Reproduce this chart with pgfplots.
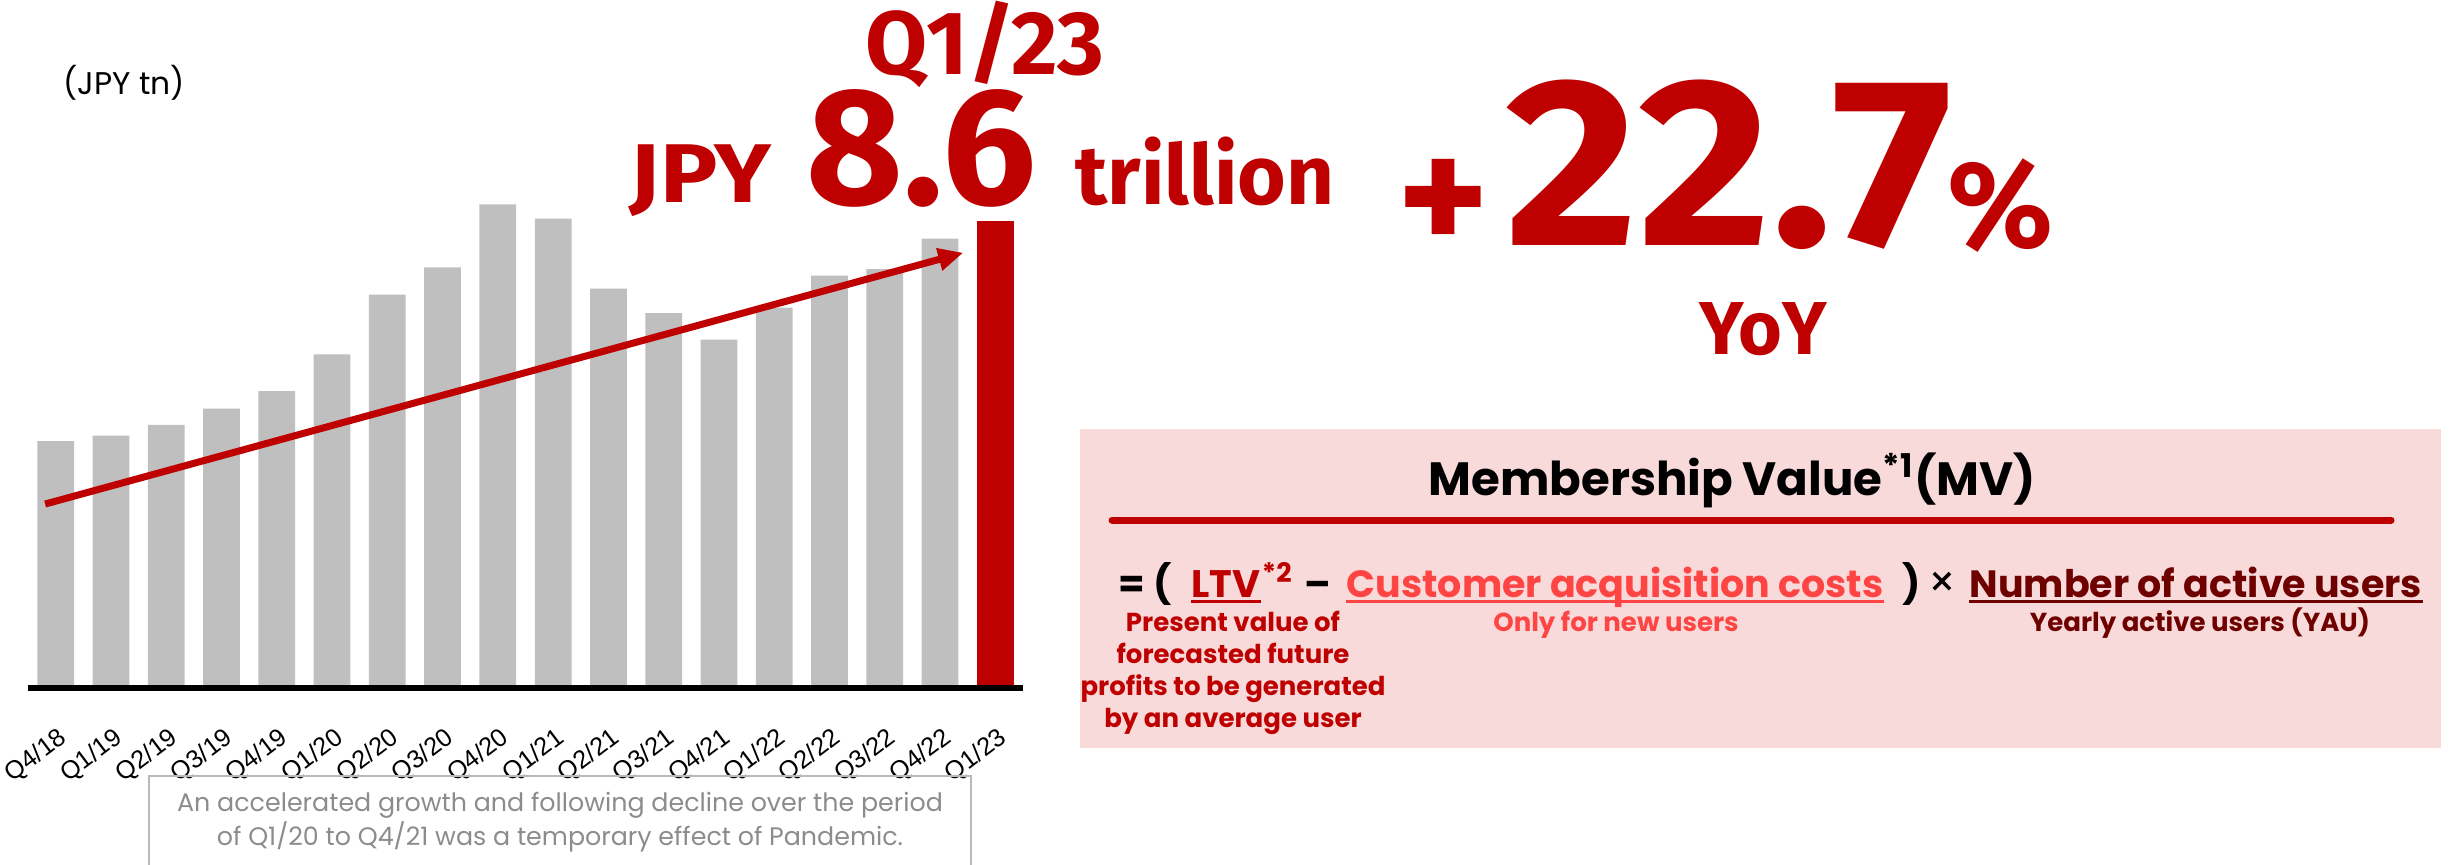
\documentclass[border=0pt]{standalone}
\usepackage{fontspec}
\setmainfont{Poppins}
\newfontfamily\fira{Fira Sans}
\newfontfamily\libsans{Liberation Sans}
\usepackage{pgfplots}
\usepackage{pgfplotstable}
\pgfplotsset{compat=1.18}
\usetikzlibrary{arrows.meta}
\definecolor{rkred}{RGB}{191,0,0}
\definecolor{bargray}{RGB}{191,191,191}
\definecolor{pinkbox}{RGB}{249,218,218}
\definecolor{coral}{RGB}{255,68,68}
\definecolor{maroon}{RGB}{110,0,0}
\definecolor{notegray}{RGB}{140,140,140}
\definecolor{boxgray}{RGB}{185,185,185}
\newcommand\fs[1]{\fontsize{#1}{#1}\selectfont}

\pgfplotstableread{
x v
0 4.55
1 4.65
2 4.85
3 5.15
4 5.47
5 6.15
6 7.25
7 7.75
8 8.91
9 8.65
10 7.36
11 6.91
12 6.42
13 7.01
14 7.60
15 7.72
16 8.28
}\graydata

\begin{document}
\begin{tikzpicture}
\useasboundingbox (0,0) rectangle (736.5pt,-259.5pt);
\begin{axis}[
  at={(8.4pt,-206.4pt)}, anchor=south west,
  scale only axis, width=298.5pt, height=162.8pt,
  xmin=-0.5, xmax=17.5, ymin=0, ymax=10,
  axis y line=none, axis x line*=bottom,
  x axis line style={line width=1.6pt,-},
  axis on top,
  ybar, bar width=0.665,
  xtick={0,...,17},
  xticklabels={Q4/18,Q1/19,Q2/19,Q3/19,Q4/19,Q1/20,Q2/20,Q3/20,Q4/20,Q1/21,Q2/21,Q3/21,Q4/21,Q1/22,Q2/22,Q3/22,Q4/22,Q1/23},
  major tick length=0pt,
  xticklabel style={rotate=37, anchor=north east, inner sep=0pt, yshift=-9.2pt, xshift=-6.4pt, font=\libsans\fs{7.6}},
]
\addplot[fill=bargray, draw=none, bar shift=0pt] table[x=x,y=v] {\graydata};
\addplot[fill=rkred, draw=none, bar shift=0pt] coordinates {(17,8.6)};
\addplot[sharp plot, draw=rkred, line width=2.1pt, -{Triangle[length=7.5pt,width=6.5pt]}] coordinates {(-0.19,3.39) (16.42,8.02)};
\end{axis}

\begin{scope}[x=0.3pt, y=-0.3pt]
% left header
\node[anchor=base west, inner sep=0] at (63,95) {\fs{9.4}(JPY tn)};
\node[anchor=base, inner sep=0, text=rkred] at (985,75) {\fira\bfseries\fs{27}Q1/23};
\node[anchor=base west, inner sep=0, text=rkred, xscale=1.15] at (629,202) {\fira\bfseries\fs{25}JPY};
\node[anchor=base west, inner sep=0, text=rkred] at (806,204) {\fira\bfseries\fs{50}8.6};
\node[anchor=base west, inner sep=0, text=rkred] at (1075,204) {\fira\bfseries\fs{25}trillion};

% YoY block
\node[anchor=center, inner sep=0, text=rkred] at (1443,206.5) {\fira\bfseries\fs{52}+};
\node[anchor=base west, inner sep=0, text=rkred, xscale=1.07] at (1505,245) {\fira\bfseries\fs{72}22.7};
\node[anchor=base west, inner sep=0, text=rkred] at (1947,247) {\fira\bfseries\fs{37}\%};
\node[anchor=base, inner sep=0, text=rkred] at (1763,354) {\fira\bfseries\fs{22.5}YoY};

% pink box
\fill[pinkbox] (1080,429) rectangle (2441,748);
\node[anchor=base, inner sep=0] at (1732,495) {\bfseries\fs{14}Membership Value\textsuperscript{*1}(MV)};
\draw[rkred, line width=2.1pt, line cap=round] (1112,520) -- (2391,520);

\node[anchor=base west, inner sep=0] at (1118,597) {\bfseries\fs{11.5}= (};
\node[anchor=base west, inner sep=0, text=rkred] (ltv) at (1191,597) {\bfseries\fs{11.5}LTV};
\node[anchor=base west, inner sep=0, text=rkred] at (ltv.base east) {\bfseries\fs{11.5}\textsuperscript{*2}};
\draw[rkred, line width=0.9pt] ([yshift=-1.4pt]ltv.base west) -- ([yshift=-1.4pt]ltv.base east);
\node[anchor=base, inner sep=0] at (1318,597) {\bfseries\fs{11.5}–};
\node[anchor=base west, inner sep=0, text=coral] (cac) at (1346,597) {\bfseries\fs{11.4}Customer acquisition costs};
\draw[coral, line width=0.9pt] ([yshift=-1.4pt]cac.base west) -- ([yshift=-1.4pt]cac.base east);
\node[anchor=base west, inner sep=0] at (1902,597) {\bfseries\fs{11.5})};
\node[anchor=base, inner sep=0] at (1942,597) {\fs{13}×};
\node[anchor=base west, inner sep=0, text=maroon] (nau) at (1969,597) {\bfseries\fs{11.4}Number of active users};
\draw[maroon, line width=0.9pt] ([yshift=-1.4pt]nau.base west) -- ([yshift=-1.4pt]nau.base east);

\node[anchor=base, inner sep=0, text=rkred] at (1233,631) {\bfseries\fs{7.8}Present value of};
\node[anchor=base, inner sep=0, text=rkred] at (1233,663) {\bfseries\fs{7.8}forecasted future};
\node[anchor=base, inner sep=0, text=rkred] at (1233,695) {\bfseries\fs{7.8}profits to be generated};
\node[anchor=base, inner sep=0, text=rkred] at (1233,727) {\bfseries\fs{7.8}by an average user};
\node[anchor=base, inner sep=0, text=coral] at (1616,631) {\bfseries\fs{7.8}Only for new users};
\node[anchor=base, inner sep=0, text=maroon] at (2200,631) {\bfseries\fs{7.8}Yearly active users (YAU)};

% note box
\draw[boxgray, line width=0.6pt] (148.7,900) -- (148.7,776) -- (971,776) -- (971,900);
\node[anchor=base, inner sep=0, text=notegray] at (560,811) {\fs{7.6}An accelerated growth and following decline over the period};
\node[anchor=base, inner sep=0, text=notegray] at (560,845) {\fs{7.6}of Q1/20 to Q4/21 was a temporary effect of Pandemic.};
\end{scope}
\end{tikzpicture}
\end{document}
